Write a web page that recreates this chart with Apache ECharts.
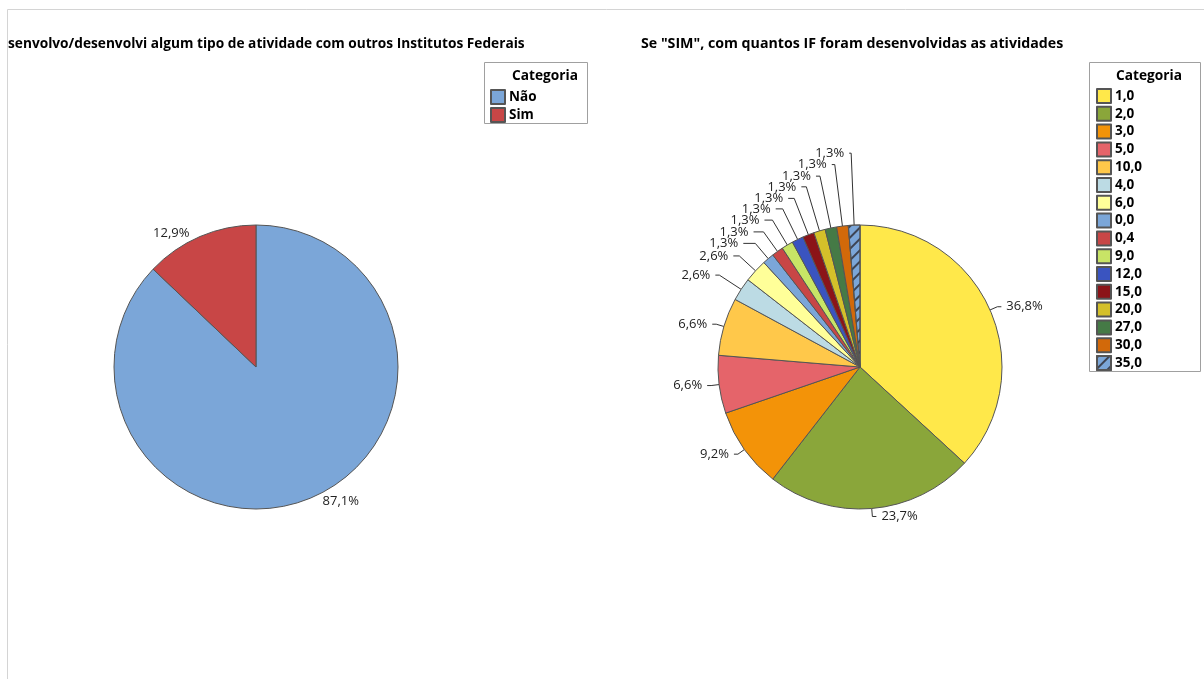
<!DOCTYPE html>
<html>
<head>
<meta charset="utf-8">
<script src="https://cdn.jsdelivr.net/npm/echarts@6/dist/echarts.min.js"></script>
<style>
  html, body { margin: 0; padding: 0; background: #fff; }
  #chart { width: 1204px; height: 679px; }
</style>
</head>
<body>
<div id="chart"></div>
<script>
// Left pie: did the respondent work with other Federal Institutes?
const leftCategories = ['Não', 'Sim'];
const leftCounts = [513, 76];
const leftColors = ['#7ba6d8', '#c84646'];

// Right pie: number of institutes involved, for the "Sim" answers
const rightCategories = ['1,0', '2,0', '3,0', '5,0', '10,0', '4,0', '6,0', '0,0',
                         '0,4', '9,0', '12,0', '15,0', '20,0', '27,0', '30,0', '35,0'];
const rightCounts = [28, 18, 7, 5, 5, 2, 2, 1, 1, 1, 1, 1, 1, 1, 1, 1];
const rightColors = ['#ffe84a', '#8aa63a', '#f39308', '#e5646a', '#ffc84a', '#bcdbe4',
                     '#ffff99', '#7ba6d8', '#c84646', '#c8e466', '#3a54c0', '#8b1418',
                     '#d4c02a', '#457a46', '#d2690a', '#7ba6d8'];

// Leader-line segment lengths, staggered so the thin slices' labels fan out over the top
const rightLeaderLengths = [8, 8, 8, 8, 8, 26, 22, 20, 24, 29, 34, 39, 46, 53, 62, 72];
const rightLeaderTails   = [4, 4, 4, 4, 4, 4, 6, 12, 10, 8, 7, 6, 5, 4, 3, 2];

const leftTitle = 'senvolvo/desenvolvi algum tipo de atividade com outros Institutos Federais';
const rightTitle = 'Se "SIM", com quantos IF foram desenvolvidas as atividades';

const FONT = '"Open Sans", "Noto Sans", sans-serif';

const sum = arr => arr.reduce((a, b) => a + b, 0);
const pctFormatter = counts => {
  const total = sum(counts);
  return p => (p.value / total * 100).toFixed(1).replace('.', ',') + '%';
};

const sliceBorder = { borderColor: '#555', borderWidth: 1 };

const hatch = {
  symbol: 'rect',
  color: 'rgba(50,50,60,0.85)',
  dashArrayX: [1, 0],
  dashArrayY: [1.5, 6],
  rotation: -Math.PI / 4,
  symbolSize: 1
};

function pieData(names, counts, colors, decalIndex, leaders, tails) {
  return names.map((n, i) => {
    const style = Object.assign({ color: colors[i] }, sliceBorder);
    if (i === decalIndex) style.decal = hatch;
    const item = { name: n, value: counts[i], itemStyle: style };
    if (leaders) item.labelLine = { length: leaders[i], length2: tails[i] };
    return item;
  });
}

const labelStyle = {
  show: true,
  position: 'outside',
  color: '#222',
  fontSize: 13,
  fontFamily: FONT
};

const boldText = { fontSize: 13.7, fontWeight: 'bold', fontFamily: FONT, color: '#000' };
const legendText = { fontSize: 13.5, fontWeight: 'bold', fontFamily: FONT, color: '#000',
                     padding: [0, 0, 0, -1] };

const chart = echarts.init(document.getElementById('chart'), null, { renderer: 'canvas' });

chart.setOption({
  backgroundColor: '#ffffff',
  animation: false,
  title: [
    { text: leftTitle, left: 8, top: 37, padding: 0, textStyle: boldText },
    { text: rightTitle, left: 641, top: 37, padding: 0,
      textStyle: Object.assign({}, boldText, { fontSize: 14.2 }) },
    { text: 'Categoria', left: 545, top: 69, padding: 0, textAlign: 'center', textStyle: boldText },
    { text: 'Categoria', left: 1149, top: 69, padding: 0, textAlign: 'center', textStyle: boldText }
  ],
  graphic: [
    // outer frame
    { type: 'rect', silent: true, shape: { x: 7.5, y: 9.5, width: 1220, height: 700 },
      style: { fill: 'none', stroke: '#d4d4d4', lineWidth: 1 } },
    // legend boxes
    { type: 'rect', silent: true, shape: { x: 484.5, y: 62.5, width: 103, height: 61 },
      style: { fill: 'none', stroke: '#a0a0a0', lineWidth: 1 } },
    { type: 'rect', silent: true, shape: { x: 1089.5, y: 62.5, width: 111, height: 309 },
      style: { fill: 'none', stroke: '#a0a0a0', lineWidth: 1 } }
  ],
  legend: [
    { data: leftCategories, orient: 'vertical', left: 490, top: 89,
      icon: 'rect', itemWidth: 14, itemHeight: 14, itemGap: 2, padding: 0,
      selectedMode: false, textStyle: legendText },
    { data: rightCategories, orient: 'vertical', left: 1096, top: 88,
      icon: 'rect', itemWidth: 14, itemHeight: 14, itemGap: 1.8, padding: 0,
      selectedMode: false, textStyle: legendText }
  ],
  series: [
    {
      type: 'pie',
      center: [256, 367],
      radius: 142,
      startAngle: 90,
      clockwise: true,
      avoidLabelOverlap: false,
      labelLayout: { hideOverlap: false },
      label: Object.assign({ formatter: pctFormatter(leftCounts) }, labelStyle),
      labelLine: { show: false, length: 4, length2: 4 },
      emphasis: { disabled: true },
      data: pieData(leftCategories, leftCounts, leftColors, -1, null, null)
    },
    {
      type: 'pie',
      center: [860, 367],
      radius: 142,
      startAngle: 90,
      clockwise: true,
      avoidLabelOverlap: false,
      labelLayout: { hideOverlap: false },
      label: Object.assign({ formatter: pctFormatter(rightCounts) }, labelStyle),
      labelLine: { show: true, length: 8, length2: 4, lineStyle: { color: '#333', width: 1 } },
      emphasis: { disabled: true },
      data: pieData(rightCategories, rightCounts, rightColors, 15, rightLeaderLengths, rightLeaderTails)
    }
  ]
});
</script>
</body>
</html>
